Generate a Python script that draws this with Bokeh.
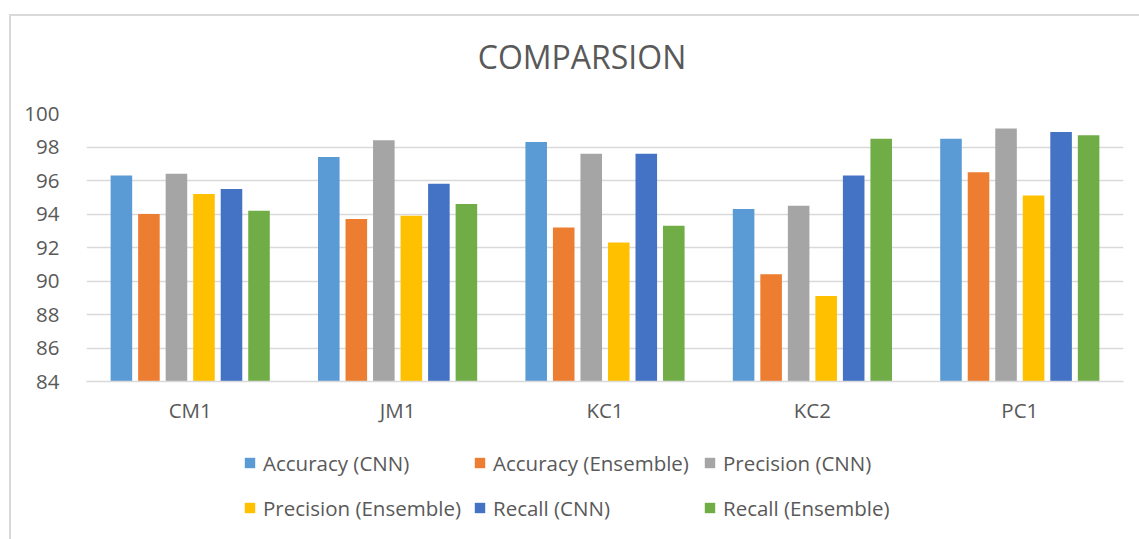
from bokeh.plotting import figure
from bokeh.layouts import column
from bokeh.models import FactorRange, Range1d, Legend, LegendItem, Label, SingleIntervalTicker
from bokeh.transform import dodge
from bokeh.embed import file_html
from bokeh.resources import INLINE

categories = ["CM1", "JM1", "KC1", "KC2", "PC1"]
series_names = ["Accuracy (CNN)", "Accuracy (Ensemble)", "Precision (CNN)",
                "Precision (Ensemble)", "Recall (CNN)", "Recall (Ensemble)"]
accuracy_cnn = [96.3, 97.4, 98.3, 94.3, 98.5]
accuracy_ensemble = [94.0, 93.7, 93.2, 90.4, 96.5]
precision_cnn = [96.4, 98.4, 97.6, 94.5, 99.1]
precision_ensemble = [95.2, 93.9, 92.3, 89.1, 95.1]
recall_cnn = [95.5, 95.8, 97.6, 96.3, 98.9]
recall_ensemble = [94.2, 94.6, 93.3, 98.5, 98.7]
series_values = [accuracy_cnn, accuracy_ensemble, precision_cnn,
                 precision_ensemble, recall_cnn, recall_ensemble]
colors = ["#5B9BD5", "#ED7D31", "#A5A5A5", "#FFC000", "#4472C4", "#70AD47"]
title_text = "COMPARSION"

FONT = "Open Sans"
TXT = "#595959"
GRID = "#d9d9d9"
W = 1128


def strip(height):
    f = figure(width=W, height=height, output_backend="svg", toolbar_location=None,
               x_range=Range1d(0, W), y_range=Range1d(0, height),
               x_axis_location=None, y_axis_location=None,
               min_border_left=0, min_border_right=0, min_border_top=0, min_border_bottom=0)
    f.outline_line_color = None
    f.grid.visible = False
    f.background_fill_color = "white"
    f.border_fill_color = "white"
    return f


# ---- title strip ----
tf = strip(74)
tf.add_layout(Label(x=539, y=34, text=title_text, text_font=FONT, text_font_size="32px",
                    text_color=TXT, text_align="center", text_baseline="middle"))

# ---- main chart ----
p = figure(x_range=FactorRange(factors=categories, range_padding=0),
           y_range=Range1d(84, 100),
           width=W, height=340, output_backend="svg", toolbar_location=None,
           min_border_left=75, min_border_right=16, min_border_top=23, min_border_bottom=49)
p.outline_line_color = None
p.background_fill_color = "white"
p.border_fill_color = "white"

pitch = 0.1327
bw = 0.104
data = {"cat": categories}
for name, vals in zip(series_names, series_values):
    data[name] = vals

for i, (name, col) in enumerate(zip(series_names, colors)):
    p.vbar(x=dodge("cat", (i - 2.5) * pitch, range=p.x_range), top=name, bottom=84,
           width=bw, source=data, fill_color=col, line_color=None)

p.xgrid.visible = False
p.ygrid.grid_line_color = GRID
p.ygrid.grid_line_width = 1.5
p.yaxis.ticker = SingleIntervalTicker(interval=2)
p.yaxis.axis_line_color = None
p.yaxis.major_tick_line_color = None
p.yaxis.minor_tick_line_color = None
p.yaxis.major_tick_out = 0
p.yaxis.major_tick_in = 0
p.yaxis.major_label_standoff = 23
p.yaxis.major_label_text_font = FONT
p.yaxis.major_label_text_font_size = "20.5px"
p.yaxis.major_label_text_color = TXT

p.xaxis.axis_line_color = GRID
p.xaxis.axis_line_width = 1.5
p.xaxis.major_tick_line_color = None
p.xaxis.major_tick_out = 0
p.xaxis.major_tick_in = 0
p.xaxis.major_label_standoff = 14
p.xaxis.major_label_text_font = FONT
p.xaxis.major_label_text_font_size = "20.5px"
p.xaxis.major_label_text_color = TXT

# ---- legend strip ----
lg = strip(109)
items = []
for name, col in zip(series_names, colors):
    # swatch-only renderer, placed outside the visible range
    r = lg.vbar(x=[-100], top=[-100], bottom=-101, width=1, fill_color=col, line_color=None)
    items.append(LegendItem(label=name, renderers=[r]))

legend = Legend(items=items, location=(157, 14), orientation="horizontal", ncols=3,
                label_text_font=FONT, label_text_font_size="20.5px", label_text_color=TXT,
                glyph_width=13, glyph_height=13, label_standoff=7, label_width=200,
                label_height=35, spacing=10, padding=0, margin=0,
                border_line_color=None, background_fill_alpha=0)
lg.add_layout(legend, "center")

layout = column(tf, p, lg, spacing=0)
layout.styles = {"margin-left": "9px", "margin-top": "14px",
                 "border-left": "2px solid #d9d9d9", "border-top": "2px solid #d9d9d9"}

open("out.html", "w").write(file_html(layout, INLINE))
